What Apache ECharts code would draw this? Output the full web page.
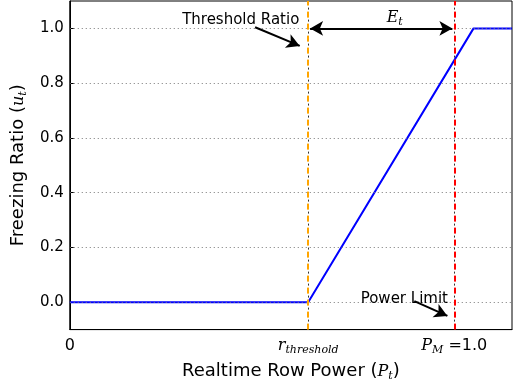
<!DOCTYPE html>
<html>
<head>
<meta charset="utf-8">
<script src="https://cdn.jsdelivr.net/npm/echarts@6/dist/echarts.min.js"></script>
<style>
  html, body { margin: 0; padding: 0; background: #fff; }
  #chart { width: 513px; height: 387px; }
</style>
</head>
<body>
<div id="chart"></div>
<script>
  // data
  var curveX = [0, 0.62, 1.05, 1.15];
  var curveY = [0, 0, 1, 1];
  var xTicks = [0, 0.62, 1.0];
  var yTicks = [0, 0.2, 0.4, 0.6, 0.8, 1.0];
  var thresholdX = 0.62;
  var limitX = 1.0;

  var sans = 'DejaVu Sans';
  var serif = 'DejaVu Serif';

  var mathRich = {
    m: { fontFamily: serif, fontStyle: 'italic', fontSize: 16, color: '#000', lineHeight: 22 },
    s: { fontFamily: serif, fontStyle: 'italic', fontSize: 11, color: '#000', lineHeight: 22, padding: [10, 0, 0, 0] },
    n: { fontFamily: sans, fontSize: 16, color: '#000', lineHeight: 22 },
    t: { fontFamily: sans, fontSize: 18, color: '#000', lineHeight: 22 },
    a: { fontFamily: sans, fontSize: 15, color: '#000', lineHeight: 20 }
  };

  var gridLines = yTicks.map(function (v) { return { yAxis: v }; });

  var option = {
    animation: false,
    grid: { left: 69, right: 1, top: 1, bottom: 50, show: true, borderColor: '#000', borderWidth: 1 },
    xAxis: {
      type: 'value', min: 0, max: 1.15,
      name: '{t|Realtime Row Power (}{m|P}{s|t}{t|)}',
      nameLocation: 'middle', nameGap: 30,
      nameTextStyle: { rich: mathRich },
      axisLine: { onZero: false, lineStyle: { color: '#000' } },
      splitLine: { show: false },
      axisTick: { show: false },
      axisLabel: {
        customValues: xTicks,
        margin: 5,
        formatter: function (v) {
          if (v === 0) return '{n|0}';
          if (v === limitX) return '{m|P}{s|M}{n| =1.0}';
          return '{m|r}{s|threshold}';
        },
        rich: mathRich
      }
    },
    yAxis: {
      type: 'value', min: -0.1, max: 1.1,
      name: '{t|Freezing Ratio (}{m|u}{s|t}{t|)}',
      nameLocation: 'middle', nameGap: 40, nameRotate: 90,
      nameTextStyle: { rich: mathRich },
      axisLine: { onZero: false, lineStyle: { color: '#000' } },
      splitLine: { show: false },
      axisTick: { show: true, inside: true, length: 4, customValues: yTicks, lineStyle: { color: '#000' } },
      axisLabel: {
        customValues: yTicks,
        fontFamily: sans, fontSize: 15, color: '#000', margin: 6,
        formatter: function (v) { return v.toFixed(1); }
      }
    },
    series: [
      {
        type: 'line', symbol: 'none', z: 3,
        data: curveX.map(function (x, i) { return [x, curveY[i]]; }),
        lineStyle: { color: '#0000ff', width: 2 }
      },
      {
        // dotted grid
        type: 'line', data: [], z: 1,
        markLine: {
          silent: true, symbol: 'none', label: { show: false },
          lineStyle: { color: '#777', type: [1, 3], width: 1 },
          data: gridLines
        }
      },
      {
        // vertical reference lines (coloured dashes)
        type: 'line', data: [], z: 2,
        markLine: {
          silent: true, symbol: 'none', label: { show: false },
          data: [
            { xAxis: thresholdX, lineStyle: { color: '#ffa500', type: [6, 6], width: 2 } },
            { xAxis: limitX, lineStyle: { color: '#ff0000', type: [6, 6], width: 2 } }
          ]
        }
      },
      {
        // dark dots in the gaps of the vertical lines
        type: 'line', data: [], z: 4,
        markLine: {
          silent: true, symbol: 'none', label: { show: false },
          lineStyle: { color: '#333', type: [2, 10], dashOffset: -8, width: 1 },
          data: [{ xAxis: thresholdX }, { xAxis: limitX }]
        }
      },
      {
        // annotation arrows
        type: 'line', data: [], z: 5,
        markLine: {
          silent: true, label: { show: false },
          symbolSize: [11, 13],
          lineStyle: { color: '#000', type: 'solid', width: 2 },
          data: [
            [{ coord: [0.625, 1.0], symbol: 'arrow' }, { coord: [0.995, 1.0], symbol: 'arrow' }],
            [{ coord: [0.482, 1.004], symbol: 'none' }, { coord: [0.598, 0.936], symbol: 'arrow' }],
            [{ coord: [0.896, 0.004], symbol: 'none' }, { coord: [0.982, -0.05], symbol: 'arrow' }]
          ]
        },
        markPoint: {
          silent: true, symbol: 'circle', symbolSize: 0,
          label: { show: true, rich: mathRich },
          data: [
            { coord: [0.597, 1.032], label: { formatter: '{a|Threshold Ratio}', rich: mathRich, align: 'right', verticalAlign: 'middle' } },
            { coord: [0.845, 1.04], label: { formatter: '{m|E}{s|t}', rich: mathRich, align: 'center', verticalAlign: 'middle' } },
            { coord: [0.87, 0.01], label: { formatter: '{a|Power Limit}', rich: mathRich, align: 'center', verticalAlign: 'middle' } }
          ]
        }
      }
    ]
  };

  echarts.init(document.getElementById('chart')).setOption(option);
</script>
</body>
</html>
